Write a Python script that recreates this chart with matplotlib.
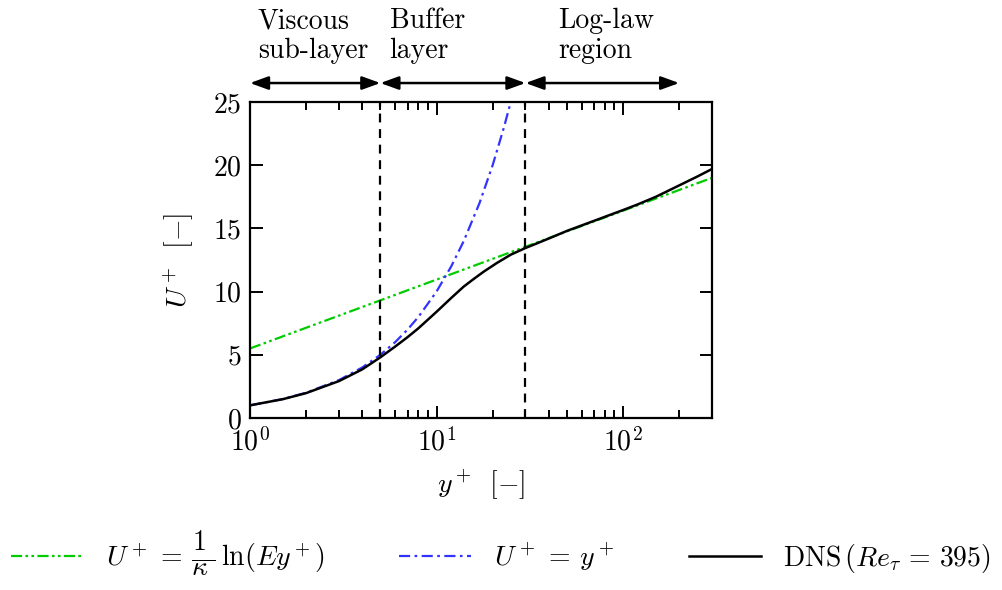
import matplotlib
matplotlib.use("Agg")
import matplotlib.pyplot as plt

plt.rcParams.update({
    "font.family": "serif",
    "font.serif": ["cmr10"],
    "mathtext.fontset": "cm",
    "axes.unicode_minus": False,
    "axes.formatter.use_mathtext": True,
    "font.size": 20,
})

# ---- data ----
loglaw_y = [1.0, 300.0]
loglaw_u = [5.5, 19.0]

linear_y = [1.0, 1.5, 2.0, 3.0, 4.0, 5.0, 6.0, 7.0, 8.0, 10.0, 12.0, 14.0, 17.0, 20.0, 23.0, 25.0, 26.0]
linear_u = [1.0, 1.5, 2.0, 3.0, 4.0, 5.0, 6.0, 7.0, 8.0, 10.0, 12.0, 14.0, 17.0, 20.0, 23.0, 25.0, 26.0]

dns_y = [1.0, 1.5, 2.0, 3.0, 4.0, 5.0, 6.0, 7.0, 8.0, 10.0, 12.0, 14.0, 16.0, 18.0, 21.0, 25.0,
         30.0, 35.0, 40.0, 50.0, 70.0, 100.0, 120.0, 150.0, 200.0, 250.0, 300.0]
dns_u = [1.0, 1.49, 1.97, 2.92, 3.85, 4.8, 5.65, 6.4, 7.1, 8.4, 9.5, 10.4, 11.05, 11.6, 12.25, 12.92,
         13.45, 13.85, 14.2, 14.8, 15.6, 16.45, 16.9, 17.5, 18.4, 19.1, 19.7]

region_bounds = [1.0, 5.0, 30.0, 200.0]
region_labels = ["Viscous\nsub-layer", "Buffer\nlayer", "Log-law\nregion"]
region_label_x = [1.1, 5.6, 44.7]

xlim = (1.0, 300.0)
ylim = (0.0, 25.0)
yticks = [0, 5, 10, 15, 20, 25]

fig = plt.figure(figsize=(10.02, 5.90), dpi=100)
ax = fig.add_axes([250 / 1002, 1 - 418 / 590, 462 / 1002, 316 / 590])

green = "#00cc00"
blue = "#3333ff"

ax.plot(loglaw_y, loglaw_u, color=green, lw=1.6,
        linestyle=(0, (5, 1.5, 1.2, 1.5, 1.2, 1.5)),
        label=r"$U^+ \,=\, \dfrac{1_{\,}}{\kappa^{\,}}\,\ln(Ey^+)$")
ax.plot(linear_y, linear_u, color=blue, lw=1.6,
        linestyle=(0, (5, 2, 1.2, 2)),
        label=r"$U^+ \,=\, y^+$")
ax.plot(dns_y, dns_u, color="black", lw=1.8,
        label=r"DNS$\,(Re_\tau \,=\, 395)$")

for xb in region_bounds[1:3]:
    ax.axvline(xb, color="black", lw=1.6, linestyle=(0, (4, 3)))

ax.set_xscale("log")
ax.set_xlim(*xlim)
ax.set_ylim(*ylim)
ax.set_yticks(yticks)

for s in ax.spines.values():
    s.set_linewidth(1.6)

ax.tick_params(which="both", direction="in", top=True, right=True, width=1.4)
ax.tick_params(which="major", length=9, pad=6)
ax.tick_params(axis="x", which="major", pad=7)
ax.tick_params(which="minor", length=5.5)

ax.set_xlabel(r"$y^+\;\;[-]$", labelpad=8)
ax.set_ylabel(r"$U^+\;\;[-]$", labelpad=12)

# region arrows and labels
arrow_y = 26.5
for i in range(3):
    ax.annotate("", xy=(region_bounds[i + 1], arrow_y), xytext=(region_bounds[i], arrow_y),
                xycoords="data", textcoords="data", annotation_clip=False,
                arrowprops=dict(arrowstyle="<|-|>,head_length=0.55,head_width=0.2",
                                color="black", lw=1.8, shrinkA=0, shrinkB=0,
                                mutation_scale=20))
    ax.text(region_label_x[i], 1.297, region_labels[i], transform=ax.get_xaxis_transform(),
            ha="left", va="top", linespacing=1.15, clip_on=False)

handles, labels = ax.get_legend_handles_labels()
fig.legend(handles, labels, loc="center", bbox_to_anchor=(0.5, 1 - 553 / 590),
           ncol=3, frameon=False, handlelength=2.6, handletextpad=0.8,
           columnspacing=2.7, borderpad=0.0)

fig.savefig("out.png", dpi=100)
